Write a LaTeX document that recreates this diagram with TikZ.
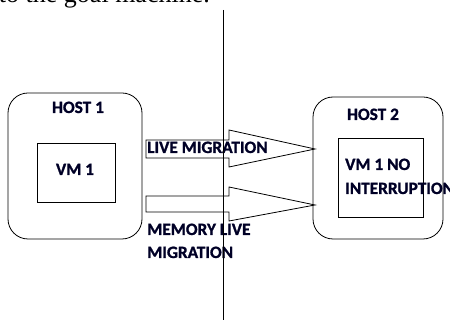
\documentclass[tikz,border=0pt]{standalone}
\usepackage{fontspec}
\setmainfont{Carlito}[BoldFeatures={FakeBold=1.2}]
\newfontfamily\serifface{Liberation Serif}
\begin{document}
\begin{tikzpicture}[x=1pt,y=-1pt,
  box/.style={draw=black,line width=0.8pt},
  lbl/.style={inner sep=0pt,font=\fontsize{17.3}{20}\selectfont\bfseries,text=black!85!blue},
  blockarrow/.style={draw=black,line width=0.8pt}]
\useasboundingbox (0,0) rectangle (450,320);
% cut-off line of running text above the figure
\node[inner sep=0pt,anchor=base east,font=\serifface\fontsize{26}{30}\selectfont] (top) at (210,3) {to the goal machine.};
% hosts
\draw[box,rounded corners=20pt] (8,93) rectangle (142,239);
\draw[box,rounded corners=20pt] (313,97) rectangle (443,239);
% VM boxes
\draw[box] (37,143) rectangle (115,202);
\draw[box] (338,138) rectangle (423,217);
% labels
\node[lbl,anchor=base] (host1) at (78,113) {HOST 1};
\node[lbl,anchor=base] (vm1) at (75,175) {VM 1};
\node[lbl,anchor=base] (host2) at (373,120) {HOST 2};
\node[lbl,anchor=base west] (vmno) at (345,170) {VM 1 NO};
\node[lbl,anchor=base west] (intr) at (345,194) {INTERRUPTION};
% block arrows
\draw[blockarrow] (146,140) -- (229,140) -- (229,130) -- (315,149) -- (229,167) -- (229,158) -- (146,158) -- cycle;
\draw[blockarrow] (146,196) -- (229,196) -- (229,187) -- (315,205) -- (229,221) -- (229,212) -- (146,212) -- cycle;
\node[lbl,anchor=base west] (live) at (147,153) {LIVE MIGRATION};
\node[lbl,anchor=base west] (mem1) at (147,235) {MEMORY LIVE};
\node[lbl,anchor=base west] (mem2) at (147,258) {MIGRATION};
% vertical divider
\coordinate (vtop) at (223,10);
\coordinate (vbot) at (223,320);
\draw[line width=0.9pt] (vtop) -- (vbot);
\end{tikzpicture}
\end{document}
